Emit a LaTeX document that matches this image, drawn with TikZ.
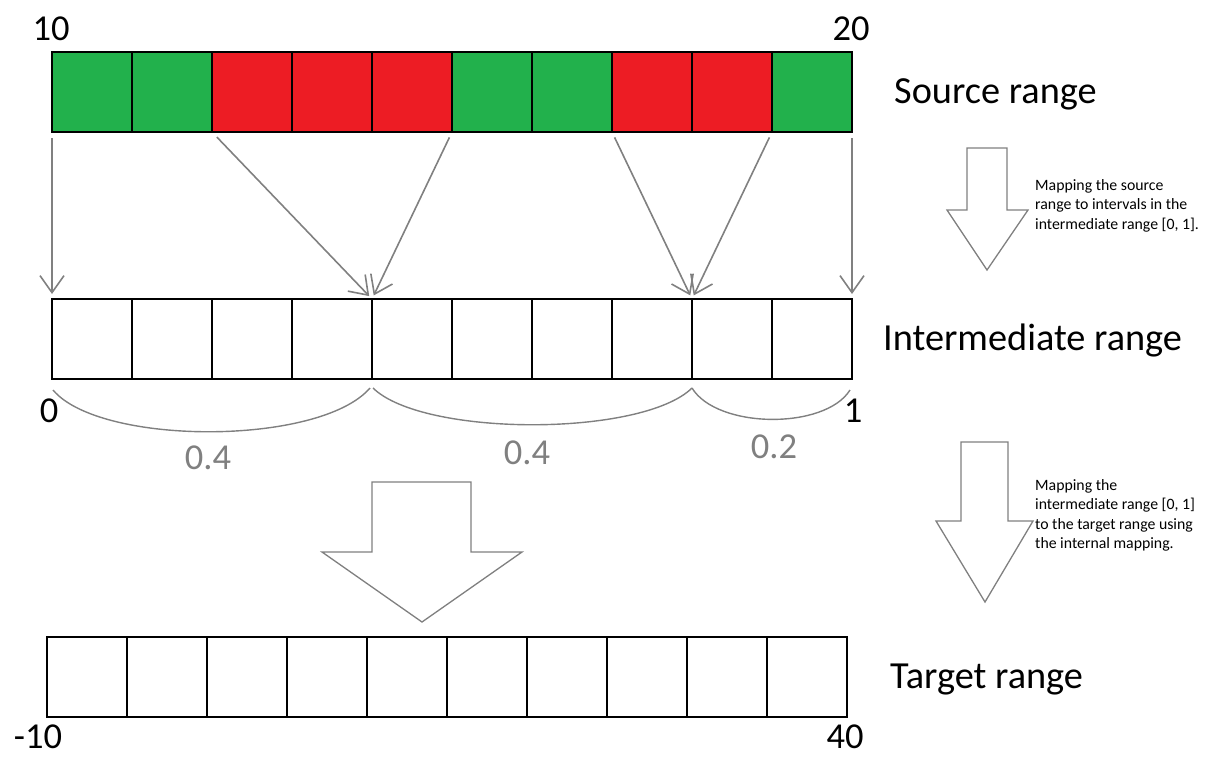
\documentclass[tikz,border=0pt]{standalone}
\usepackage{fontspec}
\setmainfont{Carlito}
\usetikzlibrary{arrows.meta}
\definecolor{cgreen}{RGB}{34,177,76}
\definecolor{cred}{RGB}{237,28,36}
\definecolor{agray}{RGB}{128,128,128}
\begin{document}
\begin{tikzpicture}[x=1pt,y=-1pt,
  cell/.style={draw=black,line width=1.8pt,minimum width=80pt,minimum height=80pt,inner sep=0pt,outer sep=0pt},
  link/.style={draw=agray,line width=1.6pt,-{Straight Barb[length=17pt,width=24pt,line width=1.6pt]}},
  brace/.style={draw=agray,line width=1.4pt},
  bigarrow/.style={draw=agray,line width=1.3pt,fill=white,line join=miter},
  big/.style={font=\fontsize{38.3}{45}\selectfont,inner sep=0pt,anchor=base west},
  num/.style={font=\fontsize{36.5}{43}\selectfont,inner sep=0pt,anchor=base},
  frac/.style={font=\fontsize{36.5}{43}\selectfont,inner sep=0pt,anchor=base,text=agray},
  note/.style={font=\fontsize{15.8}{19.6}\selectfont,inner sep=0pt,anchor=north west,align=left}
]
\useasboundingbox (0,0) rectangle (1218,756);

% source range
\foreach \c [count=\i from 0] in {cgreen,cgreen,cred,cred,cred,cgreen,cgreen,cred,cred,cgreen}
  \node[cell,fill=\c] (s\i) at ({92+80*\i},92) {};
% intermediate range
\foreach \i in {0,...,9}
  \node[cell,fill=white] (m\i) at ({92+80*\i},339) {};
% target range
\foreach \i in {0,...,9}
  \node[cell,fill=white] (t\i) at ({87+80*\i},677) {};

% mapping arrows
\draw[link,shorten <=6pt,shorten >=5pt] (s0.south west) -- (m0.north west);
\draw[link,shorten <=7pt,shorten >=4pt] (s2.south west) -- (m4.north west);
\draw[link,shorten <=6pt,shorten >=4pt] (s5.south west) -- (m4.north west);
\draw[link,shorten <=6pt,shorten >=4pt] (s7.south west) -- (m8.north west);
\draw[link,shorten <=6pt,shorten >=4pt] (s9.south west) -- (m8.north west);
\draw[link,shorten <=6pt,shorten >=5pt] (s9.south east) -- (m9.north east);

% braces
\draw[brace] ([xshift=1pt,yshift=-11pt]m0.south west) .. controls +(47,56) and +(-50,58) .. ([xshift=-2pt,yshift=-9pt]m4.south west);
\draw[brace] ([xshift=1pt,yshift=-9pt]m4.south west) .. controls +(50,49) and +(-50,49) .. ([yshift=-9pt]m8.south west);
\draw[brace] ([yshift=-9pt]m8.south west) .. controls +(25,41) and +(-25,40) .. ([xshift=-2pt,yshift=-11pt]m9.south east);

\node[frac] (f1) at (208,469) {0.4};
\node[frac] (f2) at (527,464) {0.4};
\node[frac] (f3) at (774,458) {0.2};

% big arrows
\draw[bigarrow] (967,148) -- (1007,148) -- (1007,210) -- (1028,210) -- (987,270) -- (947,210) -- (967,210) -- cycle;
\draw[bigarrow] (961,442) -- (1008,442) -- (1008,521) -- (1033,521) -- (985,602) -- (936,521) -- (961,521) -- cycle;
\draw[bigarrow] (372,482) -- (471,482) -- (471,552) -- (522,552) -- (422,622) -- (322,552) -- (372,552) -- cycle;

% notes
\node[note] (n1) at (1035,179) {Mapping the source\\range to intervals in the\\intermediate range [0, 1].};
\node[note] (n2) at (1035,479) {Mapping the\\intermediate range [0, 1]\\to the target range using\\the internal mapping.};

% labels
\node[big] (ls) at (894,103) {Source range};
\node[big] (li) at (883,350) {Intermediate range};
\node[big] (lt) at (890,688) {Target range};

\node[num] (a10) at (51,40) {10};
\node[num] (a20) at (851,40) {20};
\node[num] (a0) at (49,422) {0};
\node[num] (a1) at (853,422) {1};
\node[num] (am10) at (38,748) {-10};
\node[num] (a40) at (845,748) {40};
\end{tikzpicture}
\end{document}
